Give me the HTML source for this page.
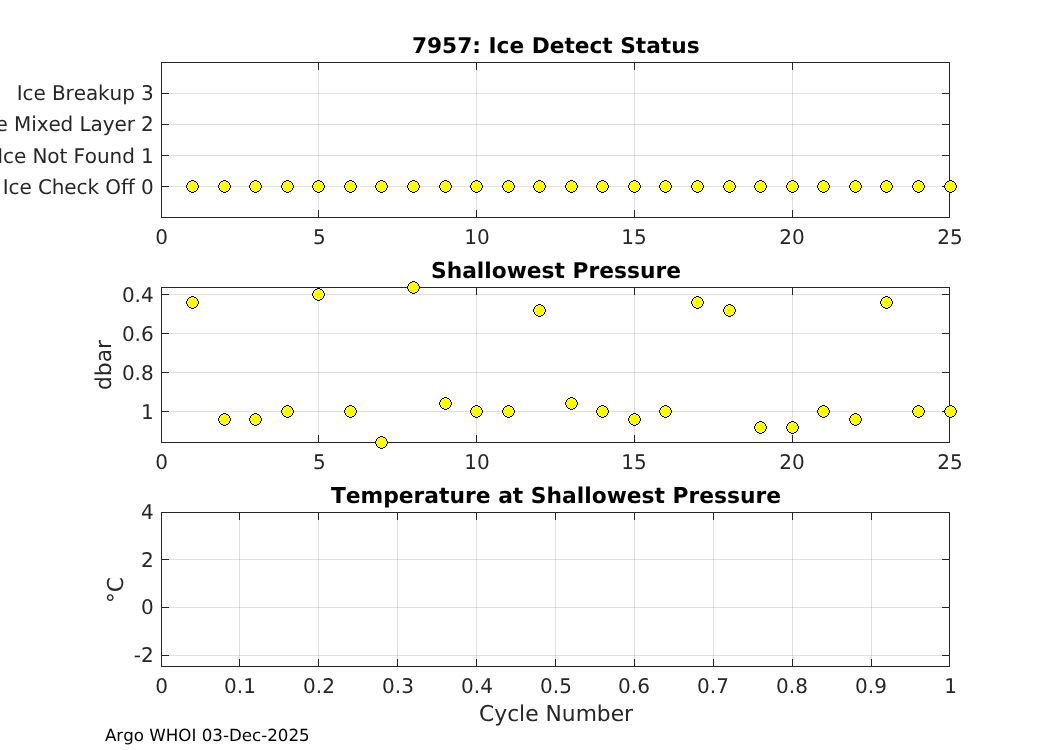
<!DOCTYPE html>
<html lang="en"><head><meta charset="utf-8"><title>7957: Ice Detect Status</title>
<style>html,body{margin:0;padding:0;background:#fff;}body{width:1050px;height:750px;overflow:hidden;}svg{display:block;font-family:"DejaVu Sans","Liberation Sans",sans-serif;font-kerning:none;font-variant-ligatures:none;text-rendering:geometricPrecision;}.g rect,#mk rect{shape-rendering:crispEdges}.a{fill:#262626}.gr{fill:#262626;fill-opacity:0.15}.t{font-size:20.0px;fill:#262626}.ti{font-size:21.7px;font-weight:bold;fill:#000;text-anchor:middle}.lb{font-size:21.8px;fill:#262626;text-anchor:middle}.ar{font-size:16.7px;fill:#000}.m{text-anchor:middle}.e{text-anchor:end}.nm{letter-spacing:-0.09px}</style></head><body>
<svg width="1050" height="750" viewBox="0 0 1050 750">
<rect x="0" y="0" width="1050" height="750" fill="#ffffff"/>
<defs>
<g id="mk">
<rect x="-1" y="-6" width="3" height="1" fill="#000"/>
<rect x="-3" y="-5" width="7" height="1" fill="#000"/>
<rect x="-4" y="-4" width="9" height="1" fill="#000"/>
<rect x="-5" y="-3" width="11" height="1" fill="#000"/>
<rect x="-5" y="-2" width="11" height="1" fill="#000"/>
<rect x="-6" y="-1" width="13" height="1" fill="#000"/>
<rect x="-6" y="0" width="13" height="1" fill="#000"/>
<rect x="-6" y="1" width="13" height="1" fill="#000"/>
<rect x="-5" y="2" width="11" height="1" fill="#000"/>
<rect x="-5" y="3" width="11" height="1" fill="#000"/>
<rect x="-4" y="4" width="9" height="1" fill="#000"/>
<rect x="-3" y="5" width="7" height="1" fill="#000"/>
<rect x="-1" y="6" width="3" height="1" fill="#000"/>
<rect x="-1" y="-5" width="3" height="1" fill="#ff0"/>
<rect x="-3" y="-4" width="7" height="1" fill="#ff0"/>
<rect x="-4" y="-3" width="9" height="1" fill="#ff0"/>
<rect x="-4" y="-2" width="9" height="1" fill="#ff0"/>
<rect x="-5" y="-1" width="11" height="1" fill="#ff0"/>
<rect x="-5" y="0" width="11" height="1" fill="#ff0"/>
<rect x="-5" y="1" width="11" height="1" fill="#ff0"/>
<rect x="-4" y="2" width="9" height="1" fill="#ff0"/>
<rect x="-4" y="3" width="9" height="1" fill="#ff0"/>
<rect x="-3" y="4" width="7" height="1" fill="#ff0"/>
<rect x="-1" y="5" width="3" height="1" fill="#ff0"/>
</g>
</defs>
<g class="g">
<rect x="318" y="62" width="1" height="156" class="gr"/>
<rect x="476" y="62" width="1" height="156" class="gr"/>
<rect x="634" y="62" width="1" height="156" class="gr"/>
<rect x="792" y="62" width="1" height="156" class="gr"/>
<rect x="161" y="186" width="789" height="1" class="gr"/>
<rect x="161" y="155" width="789" height="1" class="gr"/>
<rect x="161" y="124" width="789" height="1" class="gr"/>
<rect x="161" y="93" width="789" height="1" class="gr"/>
<rect x="161" y="62" width="789" height="1" class="a"/>
<rect x="161" y="217" width="789" height="1" class="a"/>
<rect x="161" y="62" width="1" height="156" class="a"/>
<rect x="949" y="62" width="1" height="156" class="a"/>
<rect x="161" y="210" width="1" height="8" class="a"/>
<rect x="161" y="62" width="1" height="8" class="a"/>
<rect x="318" y="210" width="1" height="8" class="a"/>
<rect x="318" y="62" width="1" height="8" class="a"/>
<rect x="476" y="210" width="1" height="8" class="a"/>
<rect x="476" y="62" width="1" height="8" class="a"/>
<rect x="634" y="210" width="1" height="8" class="a"/>
<rect x="634" y="62" width="1" height="8" class="a"/>
<rect x="792" y="210" width="1" height="8" class="a"/>
<rect x="792" y="62" width="1" height="8" class="a"/>
<rect x="949" y="210" width="1" height="8" class="a"/>
<rect x="949" y="62" width="1" height="8" class="a"/>
<rect x="161" y="186" width="8" height="1" class="a"/>
<rect x="942" y="186" width="8" height="1" class="a"/>
<rect x="161" y="155" width="8" height="1" class="a"/>
<rect x="942" y="155" width="8" height="1" class="a"/>
<rect x="161" y="124" width="8" height="1" class="a"/>
<rect x="942" y="124" width="8" height="1" class="a"/>
<rect x="161" y="93" width="8" height="1" class="a"/>
<rect x="942" y="93" width="8" height="1" class="a"/>
</g>
<g>
<use href="#mk" x="192" y="186"/>
<use href="#mk" x="224" y="186"/>
<use href="#mk" x="255" y="186"/>
<use href="#mk" x="287" y="186"/>
<use href="#mk" x="318" y="186"/>
<use href="#mk" x="350" y="186"/>
<use href="#mk" x="381" y="186"/>
<use href="#mk" x="413" y="186"/>
<use href="#mk" x="445" y="186"/>
<use href="#mk" x="476" y="186"/>
<use href="#mk" x="508" y="186"/>
<use href="#mk" x="539" y="186"/>
<use href="#mk" x="571" y="186"/>
<use href="#mk" x="602" y="186"/>
<use href="#mk" x="634" y="186"/>
<use href="#mk" x="665" y="186"/>
<use href="#mk" x="697" y="186"/>
<use href="#mk" x="729" y="186"/>
<use href="#mk" x="760" y="186"/>
<use href="#mk" x="792" y="186"/>
<use href="#mk" x="823" y="186"/>
<use href="#mk" x="855" y="186"/>
<use href="#mk" x="886" y="186"/>
<use href="#mk" x="918" y="186"/>
<use href="#mk" x="950" y="186"/>
</g>
<text class="ti" style="font-size:21.7px" x="555.75" y="52.7">7957: Ice Detect Status</text>
<text class="t e nm" transform="translate(153.7 193.7) scale(1 1.015)">Ice Check Off 0</text>
<text class="t e nm" transform="translate(153.7 162.7) scale(1 1.015)">Ice Not Found 1</text>
<text class="t e nm" transform="translate(153.7 131.4) scale(1 1.015)">Ice Mixed Layer 2</text>
<text class="t e nm" transform="translate(153.7 100.4) scale(1 1.015)">Ice Breakup 3</text>
<text class="t m" transform="translate(161.5 244.1) scale(1 1.015)">0</text>
<text class="t m" transform="translate(319.4 244.1) scale(1 1.015)">5</text>
<text class="t m" transform="translate(477 244.1) scale(1 1.015)">10</text>
<text class="t m" transform="translate(634 244.1) scale(1 1.015)">15</text>
<text class="t m" transform="translate(792 244.1) scale(1 1.015)">20</text>
<text class="t m" transform="translate(950 244.1) scale(1 1.015)">25</text>
<g class="g">
<rect x="318" y="287" width="1" height="156" class="gr"/>
<rect x="476" y="287" width="1" height="156" class="gr"/>
<rect x="634" y="287" width="1" height="156" class="gr"/>
<rect x="792" y="287" width="1" height="156" class="gr"/>
<rect x="161" y="294" width="789" height="1" class="gr"/>
<rect x="161" y="333" width="789" height="1" class="gr"/>
<rect x="161" y="372" width="789" height="1" class="gr"/>
<rect x="161" y="411" width="789" height="1" class="gr"/>
<rect x="161" y="287" width="789" height="1" class="a"/>
<rect x="161" y="442" width="789" height="1" class="a"/>
<rect x="161" y="287" width="1" height="156" class="a"/>
<rect x="949" y="287" width="1" height="156" class="a"/>
<rect x="161" y="435" width="1" height="8" class="a"/>
<rect x="161" y="287" width="1" height="8" class="a"/>
<rect x="318" y="435" width="1" height="8" class="a"/>
<rect x="318" y="287" width="1" height="8" class="a"/>
<rect x="476" y="435" width="1" height="8" class="a"/>
<rect x="476" y="287" width="1" height="8" class="a"/>
<rect x="634" y="435" width="1" height="8" class="a"/>
<rect x="634" y="287" width="1" height="8" class="a"/>
<rect x="792" y="435" width="1" height="8" class="a"/>
<rect x="792" y="287" width="1" height="8" class="a"/>
<rect x="949" y="435" width="1" height="8" class="a"/>
<rect x="949" y="287" width="1" height="8" class="a"/>
<rect x="161" y="294" width="8" height="1" class="a"/>
<rect x="942" y="294" width="8" height="1" class="a"/>
<rect x="161" y="333" width="8" height="1" class="a"/>
<rect x="942" y="333" width="8" height="1" class="a"/>
<rect x="161" y="372" width="8" height="1" class="a"/>
<rect x="942" y="372" width="8" height="1" class="a"/>
<rect x="161" y="411" width="8" height="1" class="a"/>
<rect x="942" y="411" width="8" height="1" class="a"/>
</g>
<g>
<use href="#mk" x="192" y="302"/>
<use href="#mk" x="224" y="419"/>
<use href="#mk" x="255" y="419"/>
<use href="#mk" x="287" y="411"/>
<use href="#mk" x="318" y="294"/>
<use href="#mk" x="350" y="411"/>
<use href="#mk" x="381" y="442"/>
<use href="#mk" x="413" y="287"/>
<use href="#mk" x="445" y="403"/>
<use href="#mk" x="476" y="411"/>
<use href="#mk" x="508" y="411"/>
<use href="#mk" x="539" y="310"/>
<use href="#mk" x="571" y="403"/>
<use href="#mk" x="602" y="411"/>
<use href="#mk" x="634" y="419"/>
<use href="#mk" x="665" y="411"/>
<use href="#mk" x="697" y="302"/>
<use href="#mk" x="729" y="310"/>
<use href="#mk" x="760" y="427"/>
<use href="#mk" x="792" y="427"/>
<use href="#mk" x="823" y="411"/>
<use href="#mk" x="855" y="419"/>
<use href="#mk" x="886" y="302"/>
<use href="#mk" x="918" y="411"/>
<use href="#mk" x="950" y="411"/>
</g>
<text class="ti" style="font-size:21.78px" x="555.95" y="277.7">Shallowest Pressure</text>
<text class="t e" transform="translate(153.7 301.7) scale(1 1.015)">0.4</text>
<text class="t e" transform="translate(153.7 340.7) scale(1 1.015)">0.6</text>
<text class="t e" transform="translate(153.7 379.7) scale(1 1.015)">0.8</text>
<text class="t e" transform="translate(153.7 418.7) scale(1 1.015)">1</text>
<text class="t m" transform="translate(161.5 469.1) scale(1 1.015)">0</text>
<text class="t m" transform="translate(319.4 469.1) scale(1 1.015)">5</text>
<text class="t m" transform="translate(477 469.1) scale(1 1.015)">10</text>
<text class="t m" transform="translate(634 469.1) scale(1 1.015)">15</text>
<text class="t m" transform="translate(792 469.1) scale(1 1.015)">20</text>
<text class="t m" transform="translate(950 469.1) scale(1 1.015)">25</text>
<text class="lb" transform="translate(110.7,365) rotate(-90)">dbar</text>
<g class="g">
<rect x="239" y="512" width="1" height="155" class="gr"/>
<rect x="318" y="512" width="1" height="155" class="gr"/>
<rect x="397" y="512" width="1" height="155" class="gr"/>
<rect x="476" y="512" width="1" height="155" class="gr"/>
<rect x="555" y="512" width="1" height="155" class="gr"/>
<rect x="634" y="512" width="1" height="155" class="gr"/>
<rect x="713" y="512" width="1" height="155" class="gr"/>
<rect x="792" y="512" width="1" height="155" class="gr"/>
<rect x="871" y="512" width="1" height="155" class="gr"/>
<rect x="161" y="512" width="789" height="1" class="gr"/>
<rect x="161" y="559" width="789" height="1" class="gr"/>
<rect x="161" y="607" width="789" height="1" class="gr"/>
<rect x="161" y="655" width="789" height="1" class="gr"/>
<rect x="161" y="512" width="789" height="1" class="a"/>
<rect x="161" y="666" width="789" height="1" class="a"/>
<rect x="161" y="512" width="1" height="155" class="a"/>
<rect x="949" y="512" width="1" height="155" class="a"/>
<rect x="161" y="659" width="1" height="8" class="a"/>
<rect x="161" y="512" width="1" height="8" class="a"/>
<rect x="239" y="659" width="1" height="8" class="a"/>
<rect x="239" y="512" width="1" height="8" class="a"/>
<rect x="318" y="659" width="1" height="8" class="a"/>
<rect x="318" y="512" width="1" height="8" class="a"/>
<rect x="397" y="659" width="1" height="8" class="a"/>
<rect x="397" y="512" width="1" height="8" class="a"/>
<rect x="476" y="659" width="1" height="8" class="a"/>
<rect x="476" y="512" width="1" height="8" class="a"/>
<rect x="555" y="659" width="1" height="8" class="a"/>
<rect x="555" y="512" width="1" height="8" class="a"/>
<rect x="634" y="659" width="1" height="8" class="a"/>
<rect x="634" y="512" width="1" height="8" class="a"/>
<rect x="713" y="659" width="1" height="8" class="a"/>
<rect x="713" y="512" width="1" height="8" class="a"/>
<rect x="792" y="659" width="1" height="8" class="a"/>
<rect x="792" y="512" width="1" height="8" class="a"/>
<rect x="871" y="659" width="1" height="8" class="a"/>
<rect x="871" y="512" width="1" height="8" class="a"/>
<rect x="949" y="659" width="1" height="8" class="a"/>
<rect x="949" y="512" width="1" height="8" class="a"/>
<rect x="161" y="512" width="8" height="1" class="a"/>
<rect x="942" y="512" width="8" height="1" class="a"/>
<rect x="161" y="559" width="8" height="1" class="a"/>
<rect x="942" y="559" width="8" height="1" class="a"/>
<rect x="161" y="607" width="8" height="1" class="a"/>
<rect x="942" y="607" width="8" height="1" class="a"/>
<rect x="161" y="655" width="8" height="1" class="a"/>
<rect x="942" y="655" width="8" height="1" class="a"/>
</g>
<text class="ti" style="font-size:21.8px" x="556" y="502.7">Temperature at Shallowest Pressure</text>
<text class="t e" transform="translate(153.7 519.4) scale(1 1.015)">4</text>
<text class="t e" transform="translate(153.7 567.4) scale(1 1.015)">2</text>
<text class="t e" transform="translate(153.7 614.4) scale(1 1.015)">0</text>
<text class="t e" transform="translate(153.7 662.4) scale(1 1.015)">-2</text>
<text class="t m" transform="translate(161.5 693.2) scale(1 1.015)">0</text>
<text class="t m" transform="translate(240 693.2) scale(1 1.015)">0.1</text>
<text class="t m" transform="translate(319 693.2) scale(1 1.015)">0.2</text>
<text class="t m" transform="translate(398 693.2) scale(1 1.015)">0.3</text>
<text class="t m" transform="translate(477 693.2) scale(1 1.015)">0.4</text>
<text class="t m" transform="translate(556 693.2) scale(1 1.015)">0.5</text>
<text class="t m" transform="translate(634 693.2) scale(1 1.015)">0.6</text>
<text class="t m" transform="translate(713 693.2) scale(1 1.015)">0.7</text>
<text class="t m" transform="translate(792 693.2) scale(1 1.015)">0.8</text>
<text class="t m" transform="translate(871 693.2) scale(1 1.015)">0.9</text>
<text class="t m" transform="translate(950.5 693.2) scale(1 1.015)">1</text>
<text class="lb" transform="translate(123,590) rotate(-90)">°C</text>
<text class="lb" x="556.05" y="720.5">Cycle Number</text>
<text class="ar" x="104.9" y="741.3">Argo WHOI 03-Dec-2025</text>
</svg></body></html>
